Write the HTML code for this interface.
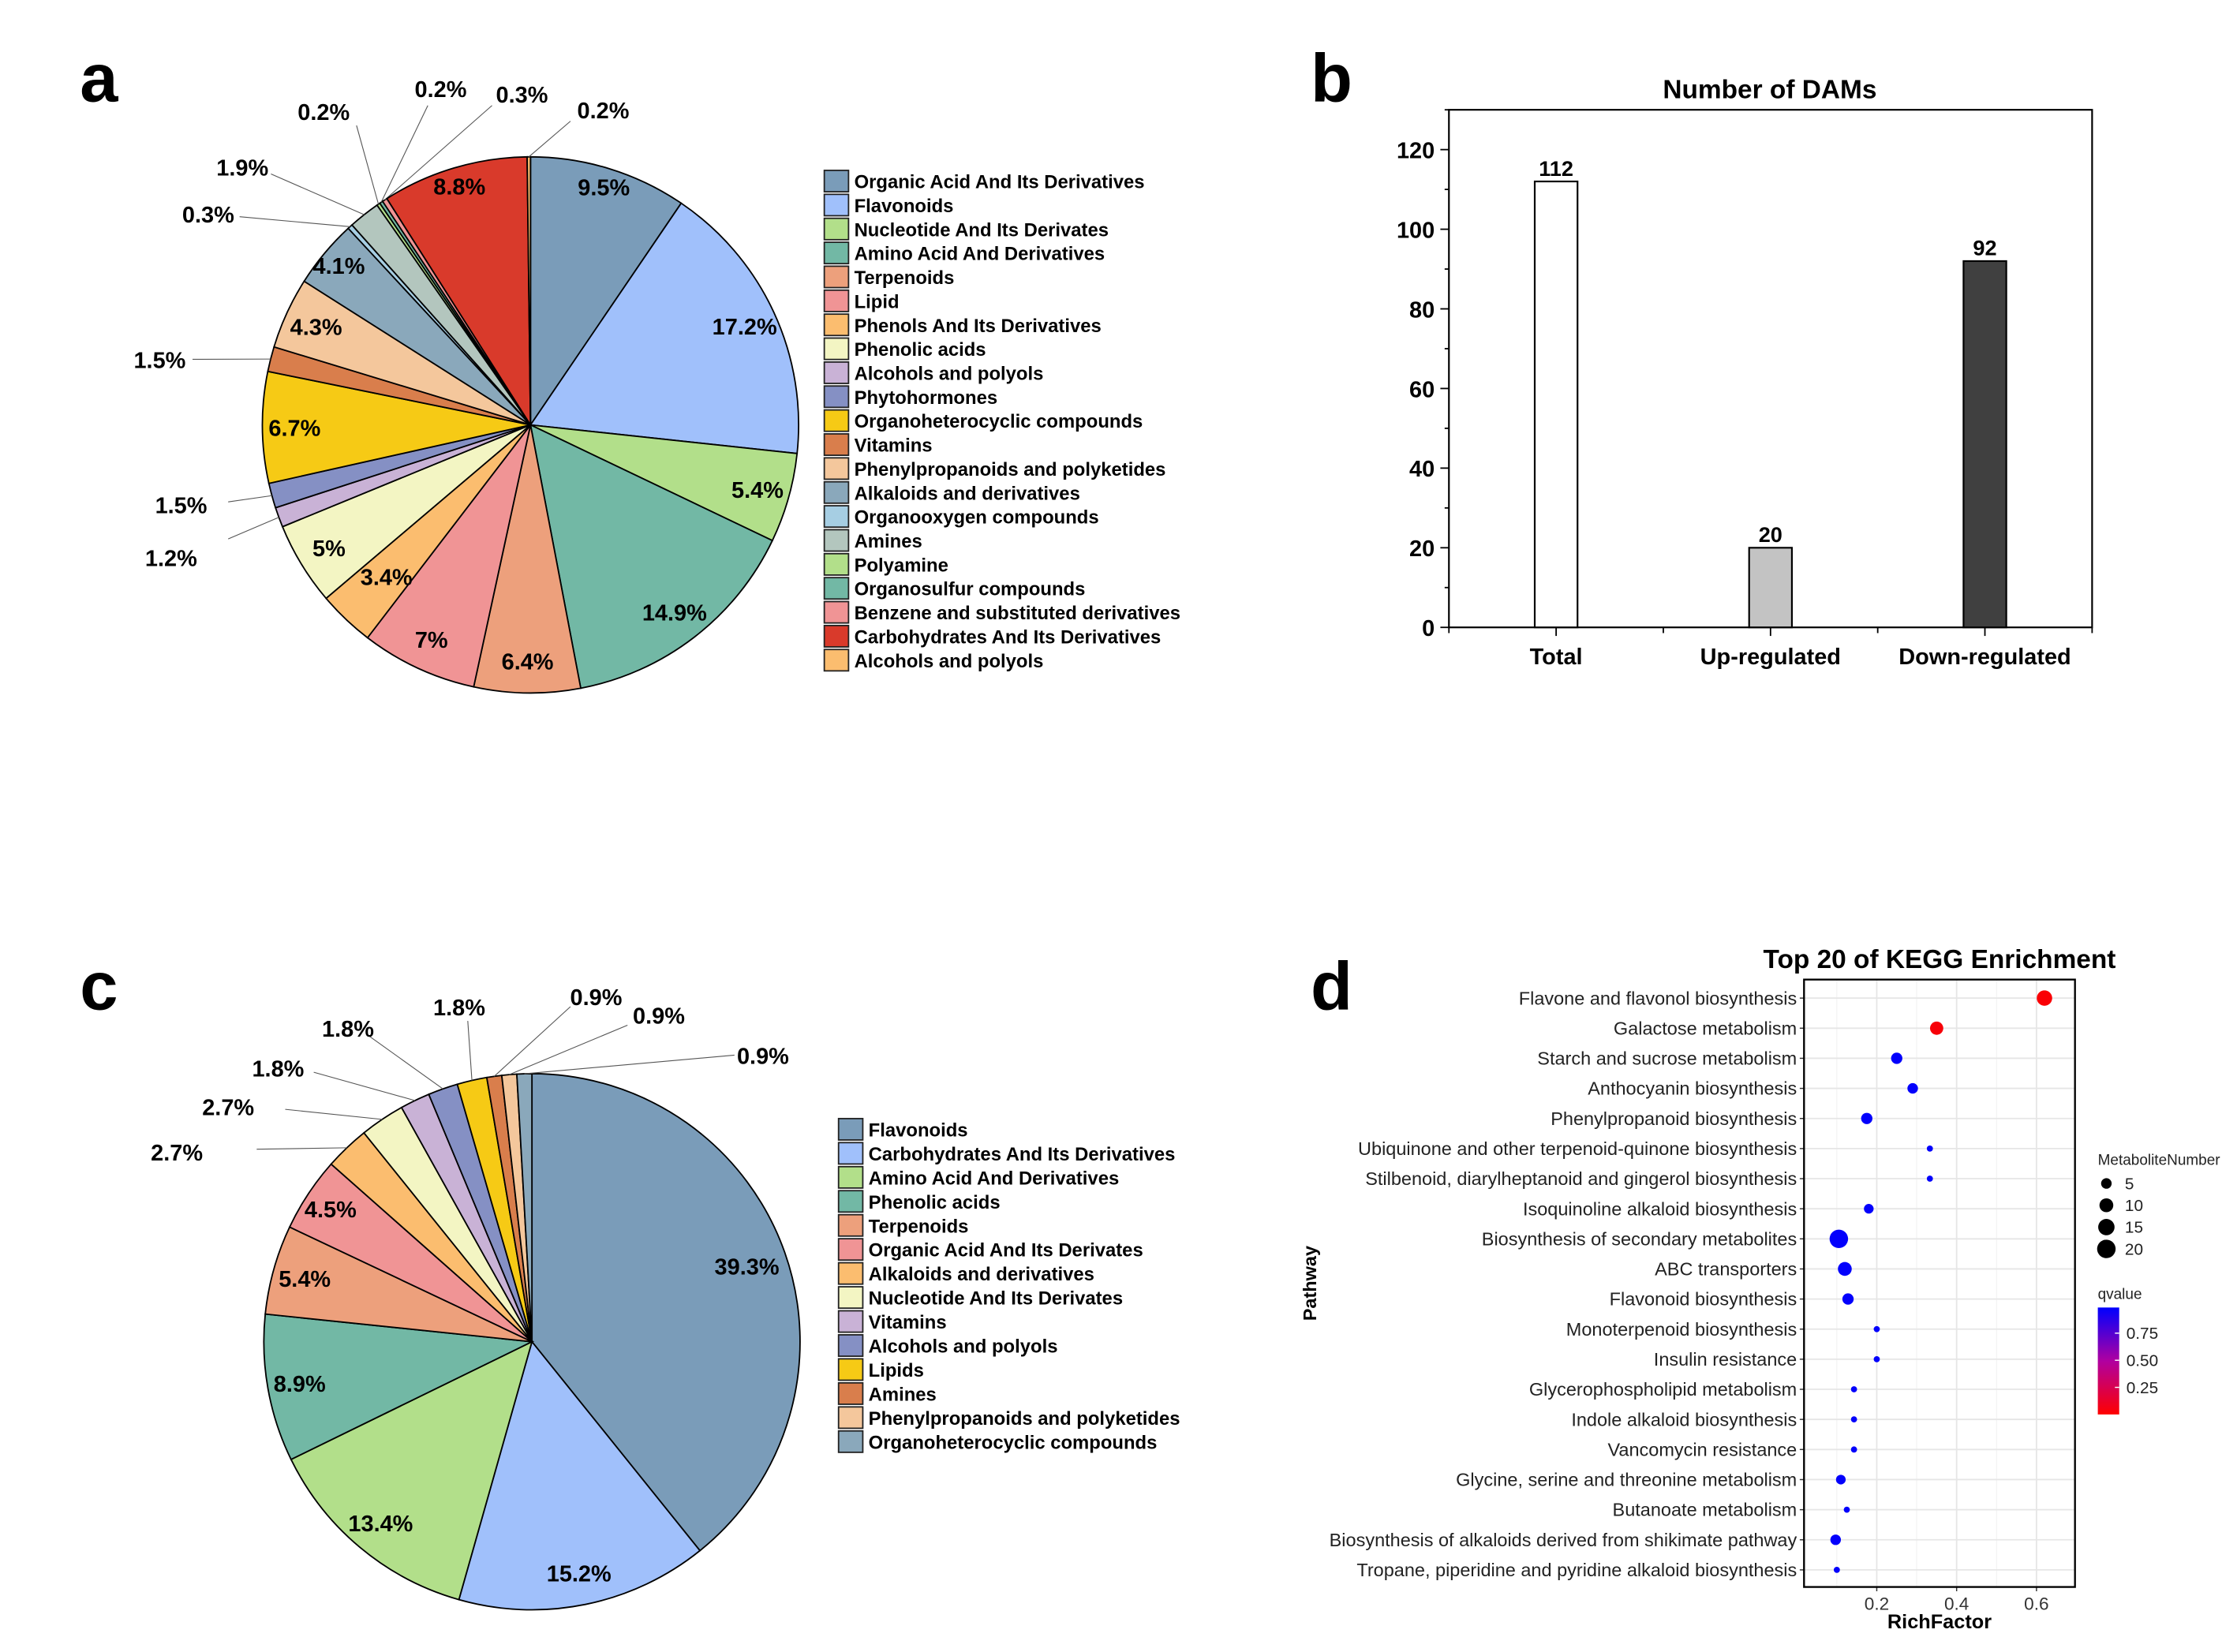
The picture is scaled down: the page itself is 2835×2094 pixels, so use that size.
<!DOCTYPE html>
<html><head><meta charset="utf-8">
<style>
html,body{margin:0;padding:0;background:#fff;}
svg{display:block;font-family:"Liberation Sans",Arial,sans-serif;}
</style></head>
<body>
<svg id="fig" xmlns="http://www.w3.org/2000/svg" width="2835" height="2094" viewBox="0 0 1568.6 1158.6" preserveAspectRatio="none">
<rect x="0" y="0" width="1570" height="1160" fill="#fff"/>
<text x="56" y="71" font-size="48" font-weight="bold">a</text>
<text x="919" y="71" font-size="48" font-weight="bold">b</text>
<text x="56" y="708" font-size="48" font-weight="bold">c</text>
<text x="919" y="708" font-size="48" font-weight="bold">d</text>
<g id="pa"></g><g id="pb"></g><g id="pc"></g><g id="pd"></g>
</svg>
<script>
// ---------- Panel a data ----------
const aCats = ["Organic Acid And Its Derivatives","Flavonoids","Nucleotide And Its Derivates","Amino Acid And Derivatives","Terpenoids","Lipid","Phenols And Its Derivatives","Phenolic acids","Alcohols and polyols","Phytohormones","Organoheterocyclic compounds","Vitamins","Phenylpropanoids and polyketides","Alkaloids and derivatives","Organooxygen compounds","Amines","Polyamine","Organosulfur compounds","Benzene and substituted derivatives","Carbohydrates And Its Derivatives","Alcohols and polyols"];
const aVals = [9.5,17.2,5.4,14.9,6.4,7,3.4,5,1.2,1.5,6.7,1.5,4.3,4.1,0.3,1.9,0.2,0.2,0.3,8.8,0.2];
const aColors = ["#7a9cb9","#a0c0fb","#b2df8a","#72b8a5","#eda07c","#f09495","#fbbd6f","#f3f5c3","#c9b2d6","#8590c4","#f6ca15","#d97e4c","#f4c79c","#8aa8bb","#a6cee3","#b3c6be","#b2df8a","#72b8a5","#f09495","#d93a2b","#fbbd6f"];
// ---------- Panel c data ----------
const cCats = ["Flavonoids","Carbohydrates And Its Derivatives","Amino Acid And Derivatives","Phenolic acids","Terpenoids","Organic Acid And Its Derivates","Alkaloids and derivatives","Nucleotide And Its Derivates","Vitamins","Alcohols and polyols","Lipids","Amines","Phenylpropanoids and polyketides","Organoheterocyclic compounds"];
const cVals = [39.3,15.2,13.4,8.9,5.4,4.5,2.7,2.7,1.8,1.8,1.8,0.9,0.9,0.9];
const cColors = ["#7a9cb9","#a0c0fb","#b2df8a","#72b8a5","#eda07c","#f09495","#fbbd6f","#f3f5c3","#c9b2d6","#8590c4","#f6ca15","#d97e4c","#f4c79c","#8aa8bb"];
// ---------- Panel b data ----------
const bCats = ["Total","Up-regulated","Down-regulated"];
const bVals = [112,20,92];
const bTicks = [0,20,40,60,80,100,120];
// ---------- Panel d data ----------
const dPaths = ["Flavone and flavonol biosynthesis","Galactose metabolism","Starch and sucrose metabolism","Anthocyanin biosynthesis","Phenylpropanoid biosynthesis","Ubiquinone and other terpenoid-quinone biosynthesis","Stilbenoid, diarylheptanoid and gingerol biosynthesis","Isoquinoline alkaloid biosynthesis","Biosynthesis of secondary metabolites","ABC transporters","Flavonoid biosynthesis","Monoterpenoid biosynthesis","Insulin resistance","Glycerophospholipid metabolism","Indole alkaloid biosynthesis","Vancomycin resistance","Glycine, serine and threonine metabolism","Butanoate metabolism","Biosynthesis of alkaloids derived from shikimate pathway","Tropane, piperidine and pyridine alkaloid biosynthesis"];
const dRich = [0.62,0.35,0.25,0.29,0.175,0.333,0.333,0.18,0.105,0.12,0.128,0.2,0.2,0.143,0.143,0.143,0.11,0.125,0.097,0.1];
const dCount = [13,9,6,5,6,1,1,4,20,10,6,1,1,1,1,1,4,1,5,1];
const dQ = [0.02,0.03,0.99,0.99,0.99,0.99,0.99,0.99,0.99,0.99,0.99,0.99,0.99,0.99,0.99,0.99,0.99,0.99,0.99,0.99];
const dXTicks = [0.2,0.4,0.6];
const dSizeTicks = [5,10,15,20];
const dQTicks = [0.25,0.5,0.75];

const NS="http://www.w3.org/2000/svg";
function el(tag,parent,attrs){const e=document.createElementNS(NS,tag);for(const k in attrs)e.setAttribute(k,attrs[k]);parent.appendChild(e);return e;}
function txt(parent,x,y,s,attrs){const t=el("text",parent,Object.assign({x:x,y:y},attrs||{}));t.textContent=s;return t;}

function pie(g,vals,colors,cx,cy,r,inside,outside,prefix){
  const tot=vals.reduce((a,b)=>a+b,0);let acc=0;
  vals.forEach((v,i)=>{
    const a0=acc/tot*2*Math.PI, a1=(acc+v)/tot*2*Math.PI; acc+=v;
    const x0=cx+r*Math.sin(a0),y0=cy-r*Math.cos(a0),x1=cx+r*Math.sin(a1),y1=cy-r*Math.cos(a1);
    const large=(a1-a0)>Math.PI?1:0;
    const p=el("path",g,{d:`M${cx},${cy}L${x0},${y0}A${r},${r} 0 ${large} 1 ${x1},${y1}Z`,fill:colors[i],stroke:"#000","stroke-width":1});
    
    
    const am=(a0+a1)/2;
    const lab=(v%1===0?v:v.toFixed(1))+"%";
    if(outside[i]){
      const o=outside[i];
      const ex=cx+r*Math.sin(am),ey=cy-r*Math.cos(am);
      const ln=el("line",g,{x1:ex,y1:ey,x2:o[2],y2:o[3],stroke:"#555","stroke-width":0.6});
      
      
      const t=txt(g,o[0],o[1]+6,lab,{"font-size":16,"font-weight":"bold","text-anchor":"middle"});
      
      
    } else {
      const f=inside[i]||0.88;
      const t=txt(g,cx+r*f*Math.sin(am),cy-r*f*Math.cos(am)+6,lab,{"font-size":16,"font-weight":"bold","text-anchor":"middle"});
      
      
    }
  });
}
function legend(g,cats,colors,x,y0,step,prefix){
  cats.forEach((c,i)=>{
    const y=y0+i*step;
    const r=el("rect",g,{x:x,y:y-7.5,width:17,height:15,fill:colors[i],stroke:"#222","stroke-width":1});
    
    
    const t=txt(g,x+21,y+5,c,{"font-size":13.2,"font-weight":"bold"});
    
    
  });
}
const aOut={8:[120,391,160,378],9:[127,354,160,352],11:[112,252,135,252],14:[146,150,168,152],15:[170,117,190,122],16:[227,78,250,88],17:[309,62,300,74],18:[366,66,345,74],20:[423,77,400,85]};
const aIn={6:0.78,0:0.93,19:0.93,13:0.93};
const pa=document.getElementById("pa");
pie(pa,aVals,aColors,372,298,188,aIn,aOut,"pie-a");
legend(pa,aCats,aColors,578,127,16.8,"pie-a");

const cOut={6:[124,808,180,806],7:[160,776,200,778],8:[195,749,220,752],9:[244,721,258,726],10:[322,706,328,716],11:[418,699,400,706],12:[462,712,440,719],13:[535,740,515,740]};
const cIn={5:0.9,4:0.88,3:0.88,0:0.85,1:0.88};
const pc=document.getElementById("pc");
pie(pc,cVals,cColors,373,941,188,cIn,cOut,"pie-c");
legend(pc,cCats,cColors,588,792,16.85,"pie-c");

// ---------- Panel b ----------
(function(){
  const g=document.getElementById("pb");
  const L=1016,R=1467,T=77,B=440,ymax=130;
  const y=v=>B-v/ymax*(B-T);
  const band=(R-L)/bCats.length;
  const x=i=>L+band*(i+0.5);
  const t=txt(g,1241,69,"Number of DAMs",{"font-size":18.5,"font-weight":"bold","text-anchor":"middle"});
  
  
  const fr=el("rect",g,{x:L,y:T,width:R-L,height:B-T,fill:"none",stroke:"#000","stroke-width":1.2});
  
  
  for(let v=0;v<=ymax;v+=10){
    const major=bTicks.includes(v);
    const tk=el("line",g,{x1:L-(major?6:3),y1:y(v),x2:L,y2:y(v),stroke:"#000","stroke-width":1});
    
    
  }
  bTicks.forEach(v=>{
    const tl=txt(g,L-10,y(v)+6,String(v),{"font-size":16,"font-weight":"bold","text-anchor":"end"});
    
    
  });
  for(let i=0;i<=bCats.length;i++){
    const tk=el("line",g,{x1:L+band*i,y1:B,x2:L+band*i,y2:B+4,stroke:"#000","stroke-width":1});
    
    
  }
  const fills=["#ffffff","#c3c3c3","#404040"];
  bCats.forEach((c,i)=>{
    const bw=30;
    const r=el("rect",g,{x:x(i)-bw/2,y:y(bVals[i]),width:bw,height:B-y(bVals[i]),fill:fills[i],stroke:"#000","stroke-width":1.2});
    
    
    const vl=txt(g,x(i),y(bVals[i])-4,String(bVals[i]),{"font-size":15,"font-weight":"bold","text-anchor":"middle"});
    
    
    const tk=el("line",g,{x1:x(i),y1:B,x2:x(i),y2:B+6,stroke:"#000","stroke-width":1});
    
    
    const xl=txt(g,x(i),B+26,c,{"font-size":16,"font-weight":"bold","text-anchor":"middle"});
    
    
  });
})();

// ---------- Panel d ----------
(function(){
  const g=document.getElementById("pd");
  const L=1265,R=1455,T=687,B=1113,x0=1260,kx=280;
  const x=v=>x0+v*kx;
  const y=i=>700+i*(1101-700)/(dPaths.length-1);
  const rad=n=>0.9+1.25*Math.sqrt(n);
  const col=q=>{const r=Math.round(255*(1-q)),b=Math.round(255*q);return `rgb(${r},0,${b})`;};
  const t=txt(g,1360,679,"Top 20 of KEGG Enrichment",{"font-size":18.5,"font-weight":"bold","text-anchor":"middle"});
  
  
  [0.1,0.3,0.5].forEach(v=>{
    const gl=el("line",g,{x1:x(v),y1:T,x2:x(v),y2:B,stroke:"#f2f2f2","stroke-width":0.6});
    
    
  });
  dXTicks.forEach(v=>{
    const gl=el("line",g,{x1:x(v),y1:T,x2:x(v),y2:B,stroke:"#e6e6e6","stroke-width":1});
    
    
    const tk=el("line",g,{x1:x(v),y1:B,x2:x(v),y2:B+3,stroke:"#333","stroke-width":0.8});
    
    
    const tl=txt(g,x(v),B+16,v.toFixed(1),{"font-size":12.5,fill:"#333","text-anchor":"middle"});
    
    
  });
  dPaths.forEach((p,i)=>{
    const gl=el("line",g,{x1:L,y1:y(i),x2:R,y2:y(i),stroke:"#e6e6e6","stroke-width":1});
    
    
    const tk=el("line",g,{x1:L-3,y1:y(i),x2:L,y2:y(i),stroke:"#333","stroke-width":0.8});
    
    
    const tl=txt(g,L-5,y(i)+4.5,p,{"font-size":13,fill:"#222","text-anchor":"end"});
    
    
  });
  dPaths.forEach((p,i)=>{
    const c=el("circle",g,{cx:x(dRich[i]),cy:y(i),r:rad(dCount[i]),fill:col(dQ[i])});
    
    
  });
  const fr=el("rect",g,{x:L,y:T,width:R-L,height:B-T,fill:"none",stroke:"#000","stroke-width":1.3});
  
  
  const xt=txt(g,1360,1142,"RichFactor",{"font-size":14,"font-weight":"bold","text-anchor":"middle"});
  
  
  const yt=txt(g,0,0,"Pathway",{"font-size":13,"font-weight":"bold","text-anchor":"middle",transform:"translate(923,900) rotate(-90)"});
  
  
  const st=txt(g,1471,817,"MetaboliteNumber",{"font-size":10.5,fill:"#222"});
  
  
  dSizeTicks.forEach((n,i)=>{
    const yy=830+i*15.3;
    const c=el("circle",g,{cx:1477,cy:yy,r:rad(n),fill:"#000"});
    
    
    const l=txt(g,1490,yy+4,String(n),{"font-size":11.5,fill:"#222"});
    
    
  });
  const qt=txt(g,1471,911,"qvalue",{"font-size":10.5,fill:"#222"});
  
  
  const defs=el("defs",g,{});
  const lg=el("linearGradient",defs,{id:"qg",x1:0,y1:1,x2:0,y2:0});
  el("stop",lg,{offset:"0","stop-color":"#ff0000"});
  el("stop",lg,{offset:"0.5","stop-color":"#b000a0"});
  el("stop",lg,{offset:"1","stop-color":"#0000ff"});
  const cb=el("rect",g,{x:1471,y:917,width:15,height:75,fill:"url(#qg)"});
  
  
  const qy=q=>992-q*76;
  dQTicks.forEach(q=>{
    const tk=el("line",g,{x1:1483,y1:qy(q),x2:1486,y2:qy(q),stroke:"#fff","stroke-width":0.8});
    
    
    const l=txt(g,1491,qy(q)+4,q.toFixed(2),{"font-size":11.5,fill:"#222"});
    
    
  });
})();
</script>
</body></html>
